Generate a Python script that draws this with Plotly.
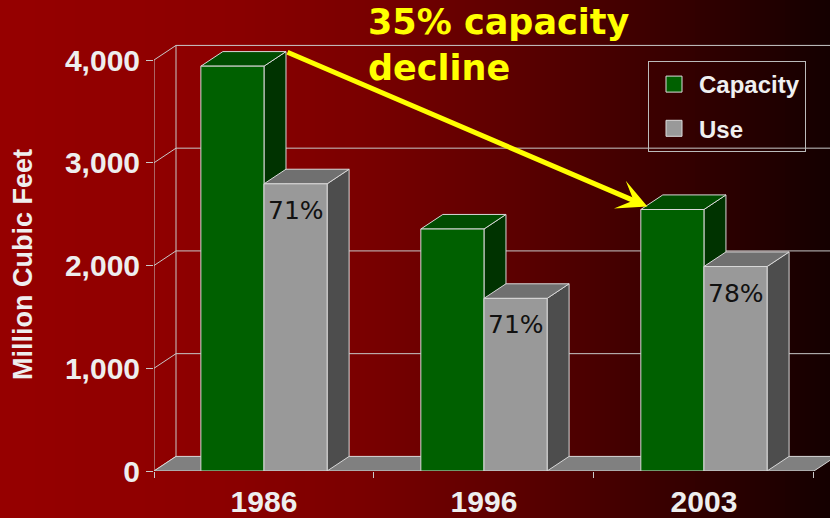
import plotly.graph_objects as go

# ---- data ----
categories = ["1986", "1996", "2003"]
capacity = [3940, 2355, 2545]
use = [2795, 1680, 1990]
use_labels = ["71%", "71%", "78%"]
y_tickvals = [0, 1000, 2000, 3000, 4000]
y_ticktext = ["0", "1,000", "2,000", "3,000", "4,000"]
series_names = ["Capacity", "Use"]
y_title = "Million Cubic Feet"
annotation_text = "35% capacity<br>decline"

# ---- style / geometry ----
W = 0.287          # bar width in category units
DX = 0.1           # depth offset x (category units)
DY = 142           # depth offset y (value units)
XMIN, XMAX = -0.5, 2.573
YMIN, YMAX = 0, 4584
EDGE = "#D8D8D8"
GREEN = ("#006000", "#004C00", "#003300")   # front, top, side
GRAY = ("#999999", "#707070", "#4D4D4D")
BOLD = dict(family="Liberation Sans, Arial, sans-serif", weight="bold")

fig = go.Figure()

def poly(xs, ys, fill, line=EDGE, width=1):
    fig.add_trace(go.Scatter(
        x=xs + [xs[0]], y=ys + [ys[0]], mode="lines", fill="toself",
        fillcolor=fill, line=dict(color=line, width=width),
        hoverinfo="skip", showlegend=False))

def seg(xs, ys, color=EDGE, width=1):
    fig.add_trace(go.Scatter(x=xs, y=ys, mode="lines",
                             line=dict(color=color, width=width),
                             hoverinfo="skip", showlegend=False))

# back wall gridlines
for v in y_tickvals[1:]:
    seg([XMIN + DX, 2.5 + DX + 0.2], [v + DY, v + DY], color="#C8C8C8")
# left wall
seg([XMIN + DX, XMIN + DX], [DY, y_tickvals[-1] + DY], color="#C8C8C8")
for v in y_tickvals:
    seg([XMIN, XMIN + DX], [v, v + DY], color="#C8C8C8")
# front y axis line
seg([XMIN, XMIN], [0, y_tickvals[-1]], color="#C8C8C8")
# floor
poly([XMIN, 2.5, 2.5 + DX, XMIN + DX], [0, 0, DY, DY], "#808080")

def bar3d(x0, x1, v, cols):
    front, top, side = cols
    poly([x1, x1 + DX, x1 + DX, x1], [0, DY, v + DY, v], side)
    poly([x0, x1, x1 + DX, x0 + DX], [v, v, v + DY, v + DY], top)
    poly([x0, x1, x1, x0], [0, 0, v, v], front)

for i in range(len(categories)):
    bar3d(i - W, i, capacity[i], GREEN)
    bar3d(i, i + W, use[i], GRAY)

# legend entries
for name, col, grp in [(series_names[0], GREEN[0], "a"), (series_names[1], GRAY[0], "b")]:
    fig.add_trace(go.Scatter(x=[None], y=[None], mode="markers", name=name,
                             legendgroup=grp,
                             marker=dict(symbol="square", size=16, color=col,
                                         line=dict(color="#DDDDDD", width=1))))

# percentage labels
for i, t in enumerate(use_labels):
    fig.add_annotation(x=i + W / 2, y=use[i], text=t, showarrow=False,
                       yanchor="top", yshift=-10,
                       font=dict(family="DejaVu Sans", size=25, color="#111111"))

# arrow
fig.add_annotation(x=2 - W + 0.03, y=capacity[2] + 30, ax=0 + DX, ay=capacity[0] + DY,
                   xref="x", yref="y", axref="x", ayref="y", text="",
                   showarrow=True, arrowhead=3, arrowsize=1, arrowwidth=5,
                   arrowcolor="#FFFF00")
# decline text
fig.add_annotation(x=(366 - 154) / 676, y=1.0, xref="paper", yref="paper",
                   xanchor="left", yanchor="top", align="left", showarrow=False,
                   text=annotation_text,
                   font=dict(family="DejaVu Sans", size=35, color="#FFFF00", weight="bold"))
# y axis title
fig.add_annotation(x=(23 - 154) / 676, y=(471 - 265) / 471, xref="paper", yref="paper",
                   xanchor="center", yanchor="middle", textangle=-90, showarrow=False,
                   text=y_title, font=dict(size=27, color="#EEEEEE", **BOLD))

# gradient background strips
stops = [(0, 150), (220, 140), (360, 122), (500, 95), (650, 60), (830, 20)]
def red_at(px):
    for (a, ca), (b, cb) in zip(stops[:-1], stops[1:]):
        if a <= px <= b:
            return ca + (cb - ca) * (px - a) / (b - a)
    return stops[-1][1]
shapes = []
step = 5
for px in range(0, 830, step):
    r = int(round(red_at(px + step / 2)))
    shapes.append(dict(type="rect", xref="paper", yref="paper",
                       x0=(px - 154) / 676, x1=(px + step + 1 - 154) / 676,
                       y0=-48 / 471, y1=1.01, layer="below",
                       fillcolor=f"rgb({r},0,0)", line=dict(width=0)))

fig.update_layout(
    width=830, height=518, autosize=False,
    margin=dict(l=154, r=0, t=0, b=47, autoexpand=False),
    paper_bgcolor="rgb(90,0,0)", plot_bgcolor="rgba(0,0,0,0)",
    shapes=shapes,
    showlegend=True,
    legend=dict(x=(648 - 154) / 676, y=(471 - 61) / 471, xanchor="left", yanchor="top",
                bordercolor="#BBBBBB", borderwidth=1, bgcolor="rgba(0,0,0,0)",
                font=dict(size=24, color="#F0F0F0", **BOLD), tracegroupgap=10,
                itemsizing="trace", itemwidth=40),
    xaxis=dict(range=[XMIN, XMAX], showgrid=False, zeroline=False, showline=False,
               automargin=False,
               tickvals=list(range(len(categories))), ticktext=categories,
               ticks="", ticklabelstandoff=10,
               tickfont=dict(size=30, color="#EEEEEE", **BOLD),
               minor=dict(tick0=-0.5, dtick=1, ticks="outside", ticklen=6,
                          tickcolor="#C8C8C8", showgrid=False)),
    yaxis=dict(range=[YMIN, YMAX], showgrid=False, zeroline=False, showline=False,
               automargin=False,
               tickvals=y_tickvals, ticktext=y_ticktext, ticks="outside", ticklen=7,
               tickcolor="#C8C8C8",
               tickfont=dict(size=30, color="#EEEEEE", **BOLD)),
)

fig.write_html("out.html", config={"displayModeBar": False},
               post_script="document.body.style.margin='0';document.body.style.padding='0';")
